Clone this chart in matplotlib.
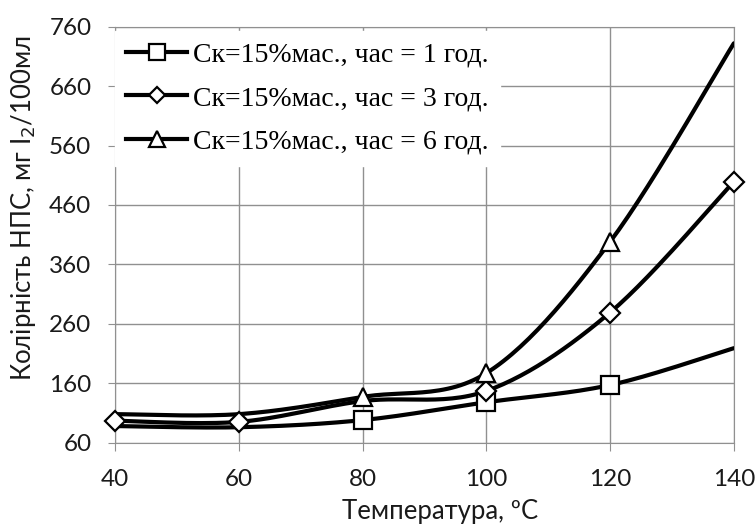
import numpy as np
import matplotlib
matplotlib.use("Agg")
import matplotlib.pyplot as plt

temps = [40, 60, 80, 100, 120, 140]
ck_1h = [88, 86, 98, 128, 157, 219]
ck_3h = [97, 95, 130, 147, 279, 499]
ck_6h = [108, 108, 137, 177, 398, 732]
labels = ["Ск=15%мас., час = 1 год.", "Ск=15%мас., час = 3 год.", "Ск=15%мас., час = 6 год."]
yticks = [60, 160, 260, 360, 460, 560, 660, 760]
xticks = [40, 60, 80, 100, 120, 140]


def smooth(x, y, n=30):
    # excel-style smoothed line (catmull-rom bezier)
    x = np.asarray(x, float); y = np.asarray(y, float)
    px = np.concatenate([[x[0]], x, [x[-1]]])
    py = np.concatenate([[y[0]], y, [y[-1]]])
    xs, ys = [], []
    t = np.linspace(0, 1, n)
    for i in range(1, len(px) - 2):
        p0 = np.array([px[i], py[i]]); p3 = np.array([px[i + 1], py[i + 1]])
        p1 = p0 + (np.array([px[i + 1], py[i + 1]]) - np.array([px[i - 1], py[i - 1]])) / 6
        p2 = p3 - (np.array([px[i + 2], py[i + 2]]) - np.array([px[i], py[i]])) / 6
        b = ((1 - t) ** 3)[:, None] * p0 + (3 * (1 - t) ** 2 * t)[:, None] * p1 \
            + (3 * (1 - t) * t ** 2)[:, None] * p2 + (t ** 3)[:, None] * p3
        xs.extend(b[:, 0]); ys.extend(b[:, 1])
    return xs, ys


fig = plt.figure(figsize=(7.55, 5.25), dpi=100)
ax = fig.add_axes([0.1523, 0.1568, 0.8197, 0.7924])

series = [(ck_1h, "s", 12.5, 11, [2, 3, 4]),
          (ck_3h, "D", 10.5, 8, [0, 1, 3, 4, 5]),
          (ck_6h, "^", 13, 12, [2, 3, 4])]
handles = []
for (vals, mk, ms, lms, every), lab in zip(series, labels):
    sx, sy = smooth(temps, vals)
    ax.plot(sx, sy, color="black", lw=3, zorder=3, solid_capstyle="round")
    ax.plot(np.array(temps)[every], np.array(vals)[every], ls="none", marker=mk,
            ms=ms, mfc="white", mec="black", mew=1.6, zorder=4, clip_on=False)
    h, = ax.plot([], [], color="black", lw=3, marker=mk, ms=lms, mfc="white",
                 mec="black", mew=1.6, label=lab)
    handles.append(h)

ax.set_xlim(40, 140)
ax.set_ylim(60, 760)
ax.set_xticks(xticks)
ax.set_yticks(yticks)
ax.grid(True, color="#909090", lw=1.0)
ax.set_axisbelow(True)
for s in ax.spines.values():
    s.set_color("#909090")
ax.tick_params(axis="x", direction="out", length=6, color="#909090", labelsize=17.5, pad=13)
ax.tick_params(axis="y", direction="out", length=5, color="#909090", labelsize=17.5, pad=12)
for lab in ax.get_xticklabels() + ax.get_yticklabels():
    lab.set_family("Lato")
    lab.set_color("#1a1a1a")

ax.set_xlabel("Температура, ºC", fontsize=18.5, family="Lato", color="#1a1a1a")
ax.set_ylabel("Колірність НПС, мг I$_2$/100мл", fontsize=18.5, family="Lato", color="#1a1a1a")
ax.xaxis.set_label_coords(0.525, -0.135)
ax.yaxis.set_label_coords(-0.124, 0.563)

leg = ax.legend(handles=handles, loc="upper left", bbox_to_anchor=(0.0, 0.99),
                frameon=True, framealpha=1, edgecolor="white", fancybox=False,
                prop={"family": "Liberation Serif", "size": 20},
                handlelength=2.2, handletextpad=0.22, labelspacing=0.66,
                borderaxespad=0.0, borderpad=0.4)
leg.set_zorder(5)

fig.savefig("out.png", dpi=100)
